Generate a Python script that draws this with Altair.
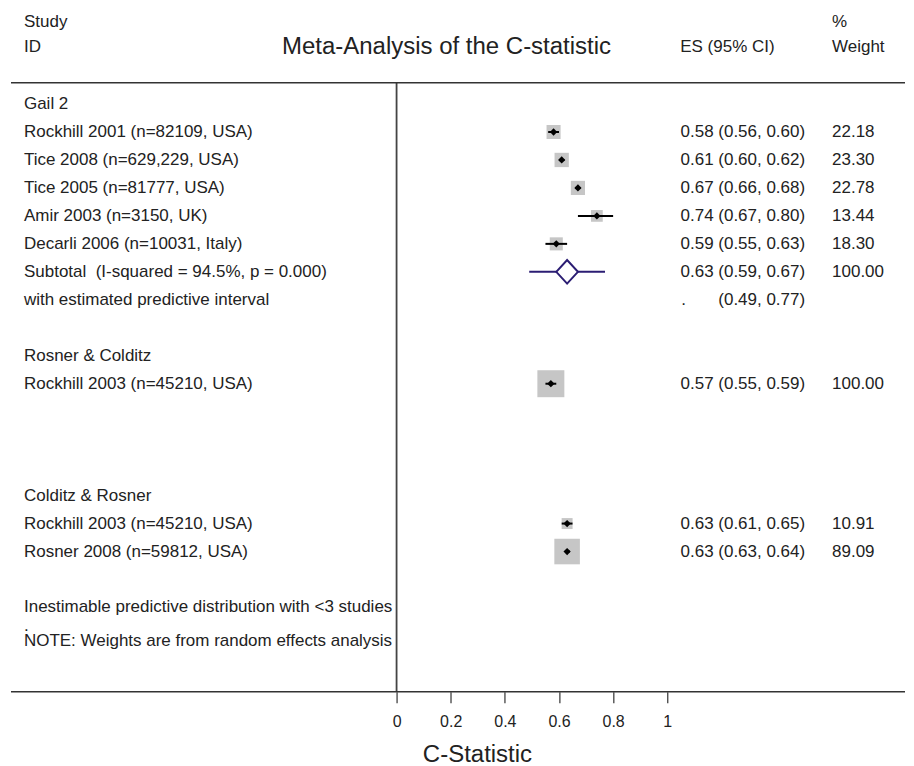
import altair as alt
import pandas as pd

FONT = "Liberation Sans"
TXT = "#222222"
NAVY = "#2b1d73"
BOX = "#c6c6c6"
LINE = "#444444"

# ---------------- data ----------------
label_rows = [0, 1, 2, 3, 4, 5, 6, 7, 9, 10, 14, 15, 16, 18, 18.68, 19.2]
label_text = [
    "Gail 2",
    "Rockhill 2001 (n=82109, USA)",
    "Tice 2008 (n=629,229, USA)",
    "Tice 2005 (n=81777, USA)",
    "Amir 2003 (n=3150, UK)",
    "Decarli 2006 (n=10031, Italy)",
    "Subtotal\u00a0 (I-squared = 94.5%, p = 0.000)",
    "with estimated predictive interval",
    "Rosner & Colditz",
    "Rockhill 2003 (n=45210, USA)",
    "Colditz & Rosner",
    "Rockhill 2003 (n=45210, USA)",
    "Rosner 2008 (n=59812, USA)",
    "Inestimable predictive distribution with <3 studies",
    ".",
    "NOTE: Weights are from random effects analysis",
]

study_rows = [1, 2, 3, 4, 5, 10, 15, 16]
study_es = [0.58, 0.61, 0.67, 0.74, 0.59, 0.57, 0.63, 0.63]
study_lo = [0.56, 0.60, 0.66, 0.67, 0.55, 0.55, 0.61, 0.63]
study_hi = [0.60, 0.62, 0.68, 0.80, 0.63, 0.59, 0.65, 0.64]
study_wt = [22.18, 23.30, 22.78, 13.44, 18.30, 100.00, 10.91, 89.09]

sub_row = 6
sub_es, sub_lo, sub_hi, sub_wt = 0.63, 0.59, 0.67, 100.00
pred_row = 7
pred_lo, pred_hi = 0.49, 0.77

x_ticks = [0, 0.2, 0.4, 0.6, 0.8, 1]

# ---------------- layout constants ----------------
W, H = 898, 684
X0, X1 = -1.43542, 1.87823
Y0, Y1 = -3.418, 21.01
TOP_LINE = -0.764
HEAD1, HEAD2 = -2.95, -2.04
DIAM_H = 0.42

xs = alt.Scale(domain=[X0, X1], nice=False, zero=False)
ys = alt.Scale(domain=[Y0, Y1], nice=False, zero=False, reverse=True)

x_axis = alt.Axis(
    values=x_ticks, format="~g", domain=False, grid=False,
    ticks=True, tickSize=11, tickColor="#333333", tickWidth=1.2,
    labelFont=FONT, labelFontSize=16, labelColor=TXT, labelPadding=11,
    title="C-Statistic", titleFont=FONT, titleFontSize=24,
    titleFontWeight="normal", titleColor=TXT,
    titleX=469.5, titleY=70, titleAlign="center", titleBaseline="alphabetic")


def X(f):
    return alt.X(f, type="quantitative", scale=xs, axis=x_axis)


def Y(f):
    return alt.Y(f, type="quantitative", scale=ys, axis=None)


studies = pd.DataFrame({
    "row": study_rows, "es": study_es, "lo": study_lo, "hi": study_hi, "wt": study_wt
})
studies["es_txt"] = [f"{e:.2f} ({l:.2f}, {h:.2f})" for e, l, h in zip(study_es, study_lo, study_hi)]
studies["wt_txt"] = [f"{w:.2f}" for w in study_wt]

sub = pd.DataFrame({"row": [sub_row], "es": [sub_es], "lo": [sub_lo], "hi": [sub_hi],
                    "es_txt": [f"{sub_es:.2f} ({sub_lo:.2f}, {sub_hi:.2f})"],
                    "wt_txt": [f"{sub_wt:.2f}"]})
es_table = pd.concat([studies[["row", "es_txt", "wt_txt"]], sub[["row", "es_txt", "wt_txt"]]])

labels = pd.DataFrame({"row": label_rows, "txt": label_text})

diamond = pd.DataFrame({
    "x": [sub_lo, sub_es, sub_hi],
    "y": [sub_row, sub_row - DIAM_H, sub_row],
    "y2": [sub_row, sub_row + DIAM_H, sub_row],
})
pred = pd.DataFrame({"trow": [pred_row], "txt": [f"({pred_lo:.2f}, {pred_hi:.2f})"]})

frame = pd.DataFrame({"top": [TOP_LINE], "bottom": [Y1], "zero": [0.0]})

base_txt = dict(font=FONT, fontSize=17, color=TXT, baseline="middle")

# ---------------- layers ----------------
top_rule = alt.Chart(frame).mark_rule(color="#333333", strokeWidth=1.5).encode(
    x=alt.value(3), x2=alt.value(W), y=Y("top"))
bottom_rule = alt.Chart(frame).mark_rule(color="#333333", strokeWidth=1.5).encode(
    x=alt.value(3), x2=alt.value(W), y=Y("bottom"))
zero_rule = alt.Chart(frame).mark_rule(color=LINE, strokeWidth=1.8).encode(
    x=X("zero"), y=Y("top"), y2=alt.Y2("bottom"))

boxes = alt.Chart(studies).mark_square(color=BOX, opacity=1).encode(
    x=X("es"), y=Y("row"),
    size=alt.Size("wt", type="quantitative",
                  scale=alt.Scale(domain=[0, 100], range=[46, 729], zero=False),
                  legend=None))
ci = alt.Chart(studies).mark_rule(color="black", strokeWidth=2).encode(
    x=X("lo"), x2=alt.X2("hi"), y=Y("row"))
dots = alt.Chart(studies).mark_point(shape="diamond", filled=True, color="black",
                                     opacity=1, size=53).encode(
    x=X("es"), y=Y("row"))

pred_line = alt.Chart(pd.DataFrame({"row": [sub_row], "lo": [pred_lo], "hi": [pred_hi]})).mark_rule(
    color=NAVY, strokeWidth=2).encode(x=X("lo"), x2=alt.X2("hi"), y=Y("row"))
diam = alt.Chart(diamond).mark_area(fill="white", stroke=NAVY, strokeWidth=2,
                                    opacity=1, orient="vertical").encode(
    x=X("x"), y=Y("y"), y2=alt.Y2("y2"))

study_lbl = alt.Chart(labels).mark_text(align="left", **base_txt).encode(
    x=alt.value(16), y=Y("row"), text="txt:N")
es_lbl = alt.Chart(es_table).mark_text(align="right", **base_txt).encode(
    x=alt.value(798), y=Y("row"), text="es_txt:N")
wt_lbl = alt.Chart(es_table).mark_text(align="left", **base_txt).encode(
    x=alt.value(825), y=Y("row"), text="wt_txt:N")
pred_lbl = alt.Chart(pred).mark_text(align="right", **base_txt).encode(
    x=alt.value(798), y=Y("trow"), text="txt:N")
pred_dot = alt.Chart(pred).mark_text(align="left", text=".", **base_txt).encode(
    x=alt.value(674), y=Y("trow"))

head_left = pd.DataFrame({"row": [HEAD1, HEAD2], "txt": ["Study", "ID"]})
head_es = pd.DataFrame({"row": [HEAD2], "txt": ["ES (95% CI)"]})
head_wt = pd.DataFrame({"row": [HEAD1, HEAD2], "txt": ["%", "Weight"]})
head_title = pd.DataFrame({"row": [HEAD2], "txt": ["Meta-Analysis of the C-statistic"]})

h1 = alt.Chart(head_left).mark_text(align="left", **base_txt).encode(
    x=alt.value(16), y=Y("row"), text="txt:N")
h2 = alt.Chart(head_es).mark_text(align="left", **base_txt).encode(
    x=alt.value(673), y=Y("row"), text="txt:N")
h3 = alt.Chart(head_wt).mark_text(align="left", **base_txt).encode(
    x=alt.value(825), y=Y("row"), text="txt:N")
h4 = alt.Chart(head_title).mark_text(
    align="center", font=FONT, fontSize=24, color=TXT, baseline="middle").encode(
    x=alt.value(439), y=Y("row"), text="txt:N")

chart = alt.layer(
    zero_rule, top_rule, bottom_rule,
    boxes, ci, dots, pred_line, diam,
    study_lbl, es_lbl, wt_lbl, pred_lbl, pred_dot, h1, h2, h3, h4,
).properties(
    width=W, height=H, padding={"left": 0, "top": 0, "right": 0, "bottom": 0}
).configure(background="white").configure_view(stroke=None)

chart.save("out.html", embed_options={"renderer": "svg", "actions": False})
